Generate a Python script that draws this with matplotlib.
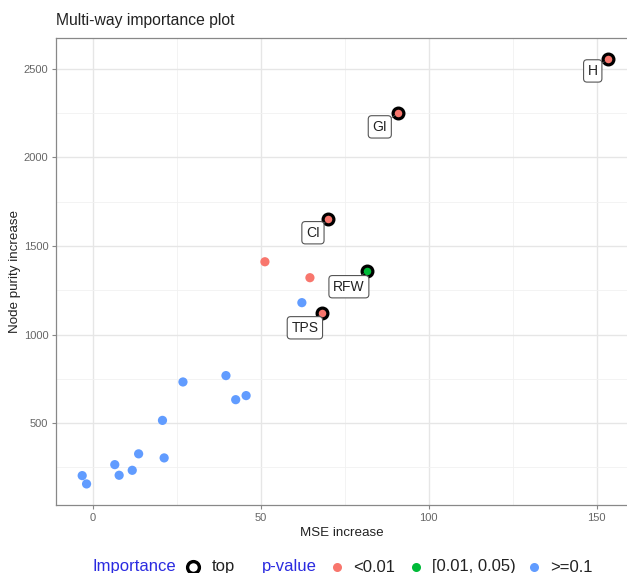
import matplotlib
matplotlib.use("Agg")
import matplotlib.pyplot as plt
from matplotlib.lines import Line2D

plt.rcParams['font.family'] = ['Liberation Sans', 'DejaVu Sans']

# data
variables = ["v1", "v2", "v3", "v4", "v5", "v6", "v7", "v8", "v9", "v10", "v11", "v12", "v13",
             "v14", "v15", "CI", "TPS", "RFW", "GI", "H"]
mse_increase = [-3.2, -1.9, 6.5, 7.8, 11.7, 13.6, 21.2, 20.7, 26.8, 39.6, 42.5, 45.6, 62.2,
                51.2, 64.6, 70.1, 68.2, 81.5, 90.9, 153.2]
node_purity = [203, 156, 265, 205, 233, 326, 303, 515, 732, 768, 632, 655, 1180,
               1411, 1321, 1650, 1121, 1360, 2253, 2556]
p_group = [">=0.1"] * 13 + ["<0.01", "<0.01", "<0.01", "<0.01", "[0.01, 0.05)", "<0.01", "<0.01"]
is_top = [False] * 15 + [True] * 5
label_offsets = {"CI": (-4.6, -75), "TPS": (-5.1, -83), "RFW": (-5.3, -90),
                 "GI": (-5.5, -80), "H": (-4.4, -67)}

group_levels = ["<0.01", "[0.01, 0.05)", ">=0.1"]
group_colors = {"<0.01": "#F8766D", "[0.01, 0.05)": "#00BA38", ">=0.1": "#619CFF"}

fig = plt.figure(figsize=(6.27, 5.73), dpi=100)
ax = fig.add_axes([56 / 627, 68 / 573, 1 - 56 / 627, 467 / 573])
ax.set_xlim(-11, 159)
ax.set_ylim(37, 2675)

ax.set_xticks([0, 50, 100, 150])
ax.set_xticks([25, 75, 125], minor=True)
ax.set_yticks([500, 1000, 1500, 2000, 2500])
ax.set_yticks([250, 750, 1250, 1750, 2250], minor=True)
ax.grid(which='major', color='#E6E6E6', linewidth=1.0)
ax.grid(which='minor', color='#F1F1F1', linewidth=0.6)
ax.set_axisbelow(True)
for s in ['left', 'bottom', 'top']:
    ax.spines[s].set_color('#888888')
    ax.spines[s].set_linewidth(0.9)
ax.spines['right'].set_visible(False)
ax.tick_params(which='major', length=3, color='#888888', labelcolor='#666666', labelsize=8, pad=2.5)
ax.tick_params(which='minor', length=0)

for x, y, g, t in zip(mse_increase, node_purity, p_group, is_top):
    if t:
        ax.scatter(x, y, s=60, color=group_colors[g], edgecolors='black', linewidths=2.3, zorder=4)
    else:
        ax.scatter(x, y, s=44, color=group_colors[g], edgecolors='none', zorder=3)

for name, x, y, t in zip(variables, mse_increase, node_purity, is_top):
    if t:
        dx, dy = label_offsets[name]
        ax.annotate(name, xy=(x, y), xytext=(x + dx, y + dy), fontsize=10, color='#222222',
                    ha='center', va='center', zorder=5,
                    bbox=dict(boxstyle='round,pad=0.3,rounding_size=0.25', fc='white',
                              ec='#555555', lw=0.8),
                    arrowprops=dict(arrowstyle='-', color='#555555', lw=0.6,
                                    shrinkA=0, shrinkB=3))

ax.set_xlabel("MSE increase", fontsize=9.6, color='#222222', labelpad=3)
ax.set_ylabel("Node purity increase", fontsize=9.6, color='#222222', labelpad=2)
fig.text(56 / 627, 1 - 20 / 573, "Multi-way importance plot", fontsize=11.3, color='#222222',
         ha='left', va='center')

# legend row
ly = 1 - 567 / 573
fig.text(92 / 627, ly, "Importance", fontsize=12, color='#2B2BE0', ha='left', va='center')
fig.add_artist(Line2D([193 / 627], [ly], marker='o', markersize=8.5, markerfacecolor='white',
                      markeredgecolor='black', markeredgewidth=2.4, linestyle='none',
                      transform=fig.transFigure))
fig.text(212 / 627, ly, "top", fontsize=12, color='#222222', ha='left', va='center')
fig.text(262 / 627, ly, "p-value", fontsize=12, color='#2B2BE0', ha='left', va='center')
legend_x = {"<0.01": 337, "[0.01, 0.05)": 416, ">=0.1": 534}
for g in group_levels:
    xm = legend_x[g]
    fig.add_artist(Line2D([xm / 627], [ly], marker='o', markersize=6.5,
                          markerfacecolor=group_colors[g], markeredgecolor='none',
                          linestyle='none', transform=fig.transFigure))
    fig.text((xm + 16) / 627, ly, g, fontsize=12, color='#222222', ha='left', va='center')

fig.savefig("out.png", dpi=100)
